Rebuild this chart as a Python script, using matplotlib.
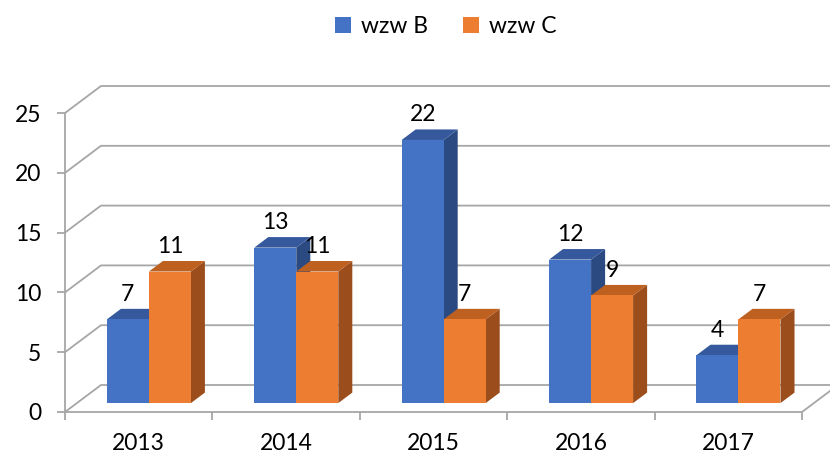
import matplotlib
matplotlib.use("Agg")
import matplotlib.pyplot as plt
from matplotlib.patches import Polygon, Patch

plt.rcParams['font.family'] = ['Lato', 'DejaVu Sans']

categories = ['2013', '2014', '2015', '2016', '2017']
series_names = ['wzw B', 'wzw C']
values_b = [7, 13, 22, 12, 4]
values_c = [11, 11, 7, 9, 7]
y_ticks = [0, 5, 10, 15, 20, 25]

front_colors = ['#4472C4', '#ED7D31']
top_colors = ['#35599C', '#BE6020']
side_colors = ['#2C4A82', '#9C4D1C']
grid_color = '#A6A6A6'

W, H = 830, 457
fig = plt.figure(figsize=(W / 100, H / 100), dpi=100)
ax = fig.add_axes([65 / W, 45 / H, 737 / W, 299 / H])
n = len(categories)
ax.set_xlim(0, n)
ax.set_ylim(0, 25)

# depth projection (in data units)
DX, DY = 0.244, 2.257
f0, f1 = 0.33, 0.72          # bar front / back depth fraction
bw = 0.285                    # bar width
bstart = 0.2035               # first bar left edge within category

FS = 16.5

# walls / gridlines
for v in y_ticks:
    ax.plot([0, DX, n + DX], [v, v + DY, v + DY], color=grid_color, lw=1.3,
            clip_on=False, zorder=1, solid_capstyle='butt')
ax.plot([n, n + DX], [0, DY], color=grid_color, lw=1.3, clip_on=False, zorder=1)

# bars
sx, sy = f0 * DX, f0 * DY
ddx, ddy = (f1 - f0) * DX, (f1 - f0) * DY
for i in range(n):
    for s, vals in enumerate([values_b, values_c]):
        h = vals[i]
        xl = i + bstart + s * bw + sx
        xr = xl + bw
        top = sy + h
        side = Polygon([(xr, sy), (xr, top), (xr + ddx, top + ddy), (xr + ddx, sy + ddy)],
                       closed=True, facecolor=side_colors[s], edgecolor='none', zorder=3)
        topf = Polygon([(xl, top), (xr, top), (xr + ddx, top + ddy), (xl + ddx, top + ddy)],
                       closed=True, facecolor=top_colors[s], edgecolor='none', zorder=3)
        ax.add_patch(side)
        ax.add_patch(topf)
        ax.bar(xl, h, width=bw, bottom=sy, align='edge', color=front_colors[s],
               edgecolor='none', zorder=3, clip_on=False)
        ax.annotate(str(h), (xl + bw / 2, top), xytext=(0, 18), textcoords='offset points',
                    ha='center', va='center', fontsize=FS, color='black', zorder=5,
                    annotation_clip=False)

# axes styling
for sp in ['top', 'right']:
    ax.spines[sp].set_visible(False)
for sp in ['left', 'bottom']:
    ax.spines[sp].set_color(grid_color)
    ax.spines[sp].set_linewidth(1.3)
    ax.spines[sp].set_zorder(2)
ax.set_facecolor('none')
ax.set_yticks(y_ticks)
ax.set_yticklabels([str(v) for v in y_ticks])
ax.tick_params(axis='y', length=6, width=1.3, color=grid_color, pad=11, labelsize=FS)
ax.set_xticks(range(n + 1))
ax.set_xticklabels([''] * (n + 1))
ax.tick_params(axis='x', which='major', length=6, width=1.3, color=grid_color)
ax.set_xticks([i + 0.5 for i in range(n)], minor=True)
ax.set_xticklabels(categories, minor=True)
ax.tick_params(axis='x', which='minor', length=0, pad=15, labelsize=FS)

handles = [Patch(facecolor=c, edgecolor='none') for c in front_colors]
fig.legend(handles, series_names, loc='upper center', bbox_to_anchor=(0.537, 1.01),
           ncol=2, frameon=False, fontsize=FS, handlelength=0.7, handleheight=0.7,
           handletextpad=0.45, columnspacing=1.5)

fig.savefig('out.png', dpi=100)
